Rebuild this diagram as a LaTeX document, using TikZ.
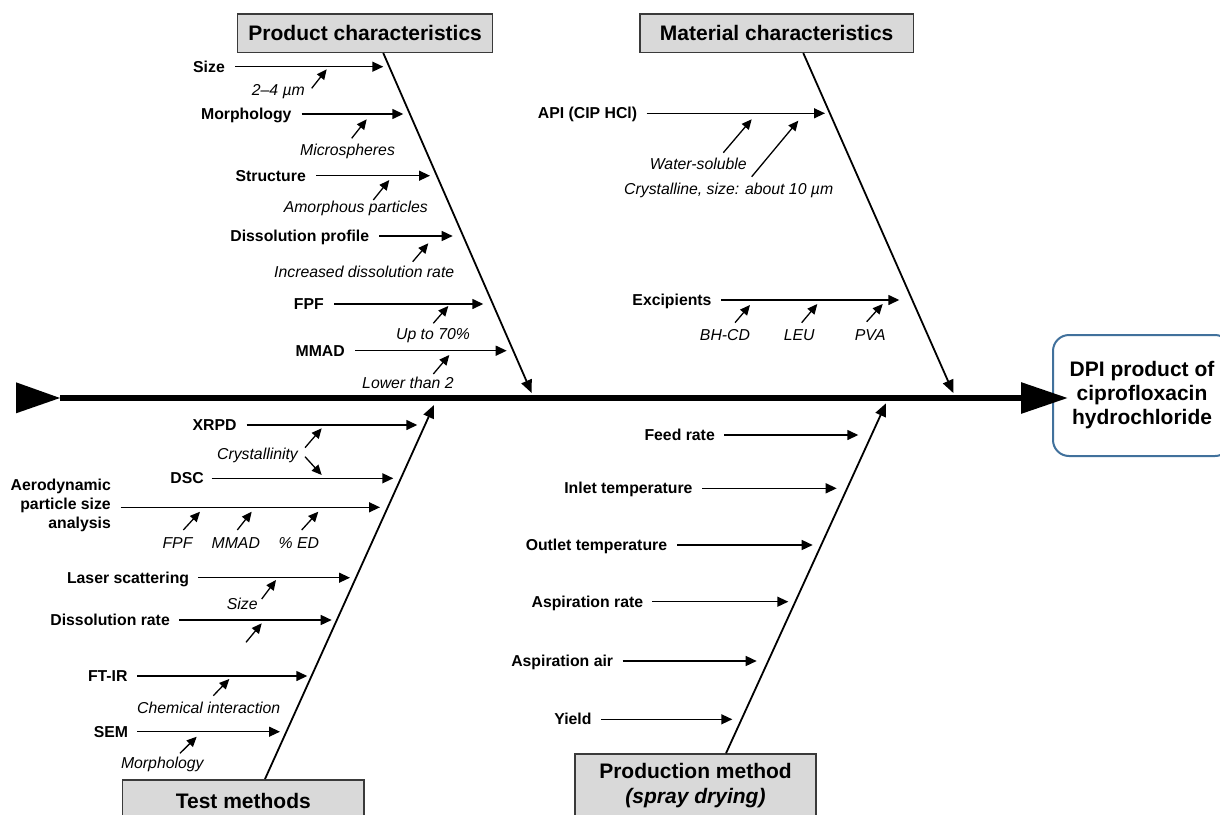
\documentclass[tikz,border=0pt]{standalone}
\usepackage{fontspec}
\setmainfont{Liberation Sans}
\usetikzlibrary{arrows.meta,calc}
\definecolor{boxgray}{HTML}{D9D9D9}
\definecolor{boxline}{HTML}{3A3A3A}
\definecolor{dpiblue}{HTML}{41719C}
\tikzset{
  lab/.style={font=\bfseries\fontsize{15.8}{19}\selectfont, inner sep=0pt, anchor=base east},
  sub/.style={font=\itshape\fontsize{15.8}{19}\selectfont, inner sep=0pt, anchor=base},
  arr/.style={line width=1.4pt, -{Triangle[length=11pt,width=10pt]}},
  sarr/.style={line width=1.3pt, -{Triangle[length=10pt,width=9pt]}},
  spine/.style={line width=1.8pt, -{Triangle[length=13pt,width=11pt]}},
  catbox/.style={draw=boxline, fill=boxgray, line width=1.5pt, inner sep=0pt,
    font=\bfseries\fontsize{21}{25}\selectfont, align=center},
  dpibox/.style={draw=dpiblue, fill=white, line width=2pt, rounded corners=16pt,
    inner sep=0pt, font=\bfseries\fontsize{21}{24}\selectfont, align=center}
}
\begin{document}
\begin{tikzpicture}[x=1pt,y=-1pt]
\useasboundingbox (0,0) rectangle (1220,814);
\fill[white] (0,0) rectangle (1220,814);

% ---------- boxes ----------
\node[catbox, minimum width=255pt, minimum height=38.3pt] (prodbox) at (365.2,33.2) {Product characteristics};
\node[catbox, minimum width=273.3pt, minimum height=38.3pt] (matbox) at (776.7,33.2) {Material characteristics};
\node[catbox, anchor=north, minimum width=241.3pt, minimum height=42pt] (testbox) at (243.3,779) {Test methods};
\node[catbox, anchor=north, minimum width=241pt, minimum height=64pt] (pmbox) at (695.5,753.3) {Production method\\{\itshape (spray drying)}};
\node[dpibox, minimum width=178pt, minimum height=121pt] (dpi) at (1142,395.5) {DPI product of\\ciprofloxacin\\hydrochloride};

% ---------- main spine ----------
\coordinate (tailtip) at (60,398);
\coordinate (headtip) at (1068,398);
\fill (16,382.3) -- (tailtip) -- (16,413.3) -- cycle;
\draw[line width=6pt, -{Triangle[length=47pt,width=30pt]}] (tailtip) -- (headtip);

% ---------- category spines ----------
\coordinate (prodS) at (531.7,393);
\coordinate (matS) at (953.3,393);
\coordinate (testS) at (434,405);
\coordinate (pmS) at (886,403.3);
\draw[spine] ([xshift=18.1pt]prodbox.south) -- (prodS);
\draw[spine] ([xshift=26.6pt]matbox.south) -- (matS);
\draw[spine] ([xshift=21.7pt]testbox.north) -- (testS);
\draw[spine] ([xshift=30.5pt]pmbox.north) -- (pmS);

% ---------- Product characteristics ----------
\node[lab] (size) at (225,72.3) {Size};
\coordinate (sizeE) at (383.3,66.7);
\draw[arr] ([xshift=10pt]size.east |- sizeE) -- (sizeE);
\node[sub] (twofour) at (278.3,95.6) {2–4 µm};
\coordinate (twofourA) at (311.7,88.3); \coordinate (twofourB) at (326.7,69.3);
\draw[sarr] (twofourA) -- (twofourB);

\node[lab] (morph) at (291.7,119.6) {Morphology};
\coordinate (morphE) at (403.3,114);
\draw[arr] ([xshift=10pt]morph.east |- morphE) -- (morphE);
\node[sub] (micro) at (347.5,155.6) {Microspheres};
\coordinate (microA) at (351.7,138.3); \coordinate (microB) at (366.7,119.3);
\draw[sarr] (microA) -- (microB);

\node[lab] (struct) at (306,181.3) {Structure};
\coordinate (structE) at (430,175.7);
\draw[arr] ([xshift=10pt]struct.east |- structE) -- (structE);
\node[sub] (amorph) at (355.8,212.3) {Amorphous particles};
\coordinate (amorphA) at (373.3,200); \coordinate (amorphB) at (389.3,180);
\draw[sarr] (amorphA) -- (amorphB);

\node[lab] (dissp) at (369.3,241.6) {Dissolution profile};
\coordinate (disspE) at (452.7,236);
\draw[arr] ([xshift=10pt]dissp.east |- disspE) -- (disspE);
\node[sub] (incr) at (364.2,277.3) {Increased dissolution rate};
\coordinate (incrA) at (412.7,261.7); \coordinate (incrB) at (428.3,243.3);
\draw[sarr] (incrA) -- (incrB);

\node[lab] (fpf) at (324,309.6) {FPF};
\coordinate (fpfE) at (483.3,304);
\draw[arr] ([xshift=10pt]fpf.east |- fpfE) -- (fpfE);
\node[sub] (upto) at (433,339.9) {Up to 70\%};
\coordinate (uptoA) at (433.3,323.3); \coordinate (uptoB) at (448.3,306);
\draw[sarr] (uptoA) -- (uptoB);

\node[lab] (mmad) at (345,356.3) {MMAD};
\coordinate (mmadE) at (506.7,350.7);
\draw[arr] ([xshift=10pt]mmad.east |- mmadE) -- (mmadE);
\node[sub] (lower) at (407.9,388.9) {Lower than 2};
\coordinate (lowerA) at (433.3,374); \coordinate (lowerB) at (449.3,355);
\draw[sarr] (lowerA) -- (lowerB);

% ---------- Material characteristics ----------
\node[lab] (api) at (637.3,118.9) {API (CIP HCl)};
\coordinate (apiE) at (825,113.3);
\draw[arr] ([xshift=9.4pt]api.east |- apiE) -- (apiE);
\node[sub] (water) at (698.3,169.9) {Water-soluble};
\coordinate (waterA) at (723.3,152.7); \coordinate (waterB) at (751.7,119.3);
\draw[sarr] (waterA) -- (waterB);
\node[sub] (cryst) at (728.7,194.6) {Crystalline, size: about 10 µm};
\coordinate (crystA) at (751.7,176.7); \coordinate (crystB) at (798.3,120.7);
\draw[sarr] (crystA) -- (crystB);

\node[lab] (excip) at (711.7,305.6) {Excipients};
\coordinate (excipE) at (899.3,300);
\draw[arr] ([xshift=9.3pt]excip.east |- excipE) -- (excipE);
\node[sub] (bhcd) at (725,340.6) {BH-CD};
\coordinate (bhcdA) at (735,322.7); \coordinate (bhcdB) at (750,305);
\draw[sarr] (bhcdA) -- (bhcdB);
\node[sub] (leu) at (799.2,340.6) {LEU};
\coordinate (leuA) at (801.7,322.7); \coordinate (leuB) at (817.3,304);
\draw[sarr] (leuA) -- (leuB);
\node[sub] (pva) at (870.3,340.6) {PVA};
\coordinate (pvaA) at (866.7,321.7); \coordinate (pvaB) at (882.7,304);
\draw[sarr] (pvaA) -- (pvaB);

% ---------- Test methods ----------
\node[lab] (xrpd) at (236.7,430.6) {XRPD};
\coordinate (xrpdE) at (417.3,425);
\draw[arr] ([xshift=10pt]xrpd.east |- xrpdE) -- (xrpdE);
\node[sub] (crysty) at (257.5,459.9) {Crystallinity};
\coordinate (crystyA) at (305,447.7); \coordinate (crystyB) at (321.7,428.3);
\coordinate (crystyC) at (305,456.7); \coordinate (crystyD) at (321.7,475);
\draw[sarr] (crystyA) -- (crystyB);
\draw[sarr] (crystyC) -- (crystyD);

\node[lab] (dsc) at (204,483.9) {DSC};
\coordinate (dscE) at (393.3,478.3);
\draw[arr] ([xshift=7.7pt]dsc.east |- dscE) -- (dscE);

\node[font=\bfseries\fontsize{15.8}{19}\selectfont, inner sep=0pt, align=right, anchor=east] (aero) at (111,505) {Aerodynamic\\particle size\\analysis};
\coordinate (aeroE) at (380,507.3);
\draw[arr] ([xshift=9.7pt]aero.east |- aeroE) -- (aeroE);
\node[sub] (tfpf) at (177.5,548.9) {FPF};
\coordinate (tfpfA) at (183.3,530); \coordinate (tfpfB) at (200,511.7);
\draw[sarr] (tfpfA) -- (tfpfB);
\node[sub] (tmmad) at (235.8,548.9) {MMAD};
\coordinate (tmmadA) at (237.3,530); \coordinate (tmmadB) at (251.7,511.7);
\draw[sarr] (tmmadA) -- (tmmadB);
\node[sub] (ted) at (298.8,548.9) {\% ED};
\coordinate (tedA) at (301.7,530); \coordinate (tedB) at (318.3,511.7);
\draw[sarr] (tedA) -- (tedB);

\node[lab] (laser) at (189.3,583.3) {Laser scattering};
\coordinate (laserE) at (350,577.7);
\draw[arr] ([xshift=9pt]laser.east |- laserE) -- (laserE);
\node[sub] (tsize) at (242.2,609.9) {Size};
\coordinate (tsizeA) at (261.7,599); \coordinate (tsizeB) at (276,580);
\draw[sarr] (tsizeA) -- (tsizeB);

\node[lab] (dissr) at (170,625.6) {Dissolution rate};
\coordinate (dissrE) at (331.7,620);
\draw[arr] ([xshift=9.3pt]dissr.east |- dissrE) -- (dissrE);
\coordinate (dissrA) at (246,642.3); \coordinate (dissrB) at (261.7,623.3);
\draw[sarr] (dissrA) -- (dissrB);

\node[lab] (ftir) at (127.7,681.6) {FT-IR};
\coordinate (ftirE) at (307.3,676);
\draw[arr] ([xshift=9.6pt]ftir.east |- ftirE) -- (ftirE);
\node[sub] (chem) at (208.7,713.9) {Chemical interaction};
\coordinate (chemA) at (213.3,695.7); \coordinate (chemB) at (229.3,679);
\draw[sarr] (chemA) -- (chemB);

\node[lab] (sem) at (128.3,737.3) {SEM};
\coordinate (semE) at (280,731.7);
\draw[arr] ([xshift=9pt]sem.east |- semE) -- (semE);
\node[sub] (tmorph) at (162.3,768.9) {Morphology};
\coordinate (tmorphA) at (180,753.3); \coordinate (tmorphB) at (196.7,736.7);
\draw[sarr] (tmorphA) -- (tmorphB);

% ---------- Production method ----------
\node[lab] (feed) at (715,440.6) {Feed rate};
\coordinate (feedE) at (858.3,435);
\draw[arr] ([xshift=9.3pt]feed.east |- feedE) -- (feedE);
\node[lab] (inlet) at (692.7,493.9) {Inlet temperature};
\coordinate (inletE) at (836.7,488.3);
\draw[arr] ([xshift=9.6pt]inlet.east |- inletE) -- (inletE);
\node[lab] (outlet) at (667.3,550.6) {Outlet temperature};
\coordinate (outletE) at (812.7,545);
\draw[arr] ([xshift=10pt]outlet.east |- outletE) -- (outletE);
\node[lab] (asprate) at (643.3,607.3) {Aspiration rate};
\coordinate (asprateE) at (788.3,601.7);
\draw[arr] ([xshift=9pt]asprate.east |- asprateE) -- (asprateE);
\node[lab] (aspair) at (613.3,666.6) {Aspiration air};
\coordinate (aspairE) at (756.7,661);
\draw[arr] ([xshift=9.4pt]aspair.east |- aspairE) -- (aspairE);
\node[lab] (yield) at (591.7,724.9) {Yield};
\coordinate (yieldE) at (732.3,719.3);
\draw[arr] ([xshift=9.3pt]yield.east |- yieldE) -- (yieldE);
\end{tikzpicture}
\end{document}
